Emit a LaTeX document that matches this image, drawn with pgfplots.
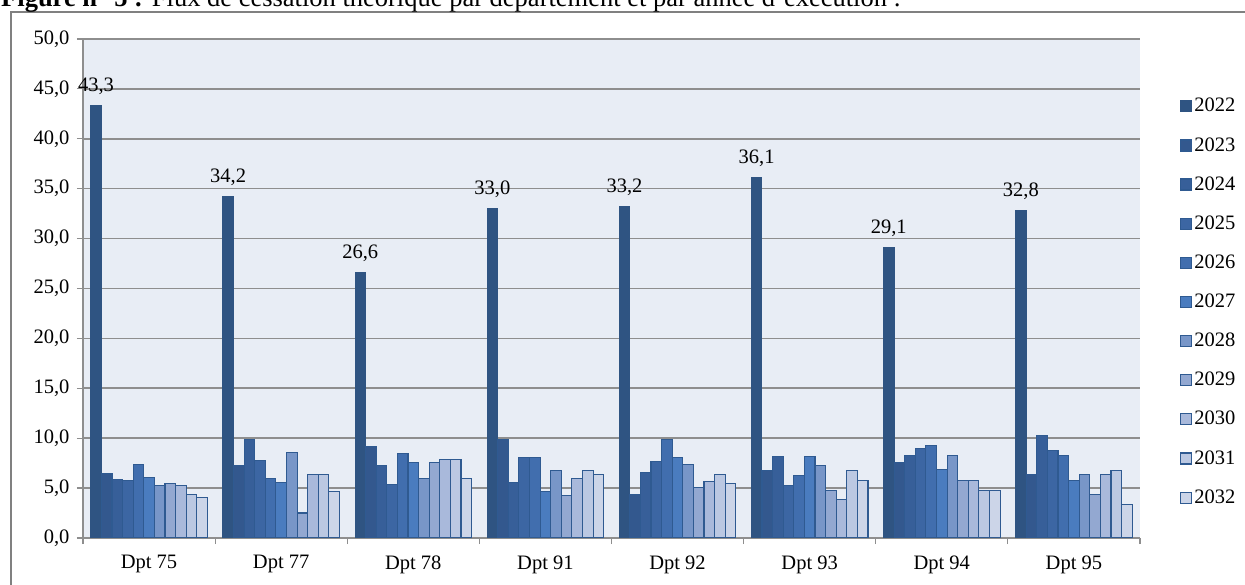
\documentclass[border=0pt]{standalone}
\usepackage{fontspec}
\setmainfont{Liberation Serif}
\usepackage{pgfplots}
\usepackage{pgfplotstable}
\pgfplotsset{compat=1.18}

\definecolor{c2022}{HTML}{2F5482}
\definecolor{c2023}{HTML}{33588E}
\definecolor{c2024}{HTML}{375F99}
\definecolor{c2025}{HTML}{3C66A3}
\definecolor{c2026}{HTML}{416EAE}
\definecolor{c2027}{HTML}{4A7CBF}
\definecolor{c2028}{HTML}{7896C8}
\definecolor{c2029}{HTML}{93A8D1}
\definecolor{c2030}{HTML}{A9B9DB}
\definecolor{c2031}{HTML}{BBC8E2}
\definecolor{c2032}{HTML}{CCD5E8}
\definecolor{barline}{HTML}{2F5A91}
\definecolor{plotbg}{HTML}{E8EDF5}
\definecolor{gridgray}{HTML}{8E8E8E}

\pgfplotstableread{
x y2022 y2023 y2024 y2025 y2026 y2027 y2028 y2029 y2030 y2031 y2032
0 43.3 6.5 5.9 5.8 7.4 6.1 5.3 5.5 5.3 4.4 4.1
1 34.2 7.3 9.9 7.8 6.0 5.6 8.6 2.5 6.4 6.4 4.7
2 26.6 9.2 7.3 5.4 8.5 7.6 6.0 7.6 7.9 7.9 6.0
3 33.0 9.9 5.6 8.1 8.1 4.7 6.8 4.3 6.0 6.8 6.4
4 33.2 4.4 6.6 7.7 9.9 8.1 7.4 5.1 5.7 6.4 5.5
5 36.1 6.8 8.2 5.3 6.3 8.2 7.3 4.8 3.9 6.8 5.8
6 29.1 7.6 8.3 9.0 9.3 6.9 8.3 5.8 5.8 4.8 4.8
7 32.8 6.4 10.3 8.8 8.3 5.8 6.4 4.4 6.4 6.8 3.4
}\data

\begin{document}
\begin{tikzpicture}
\begin{axis}[
  at={(0,0)}, anchor=south west,
  scale only axis, width=1057bp, height=499bp,
  xmin=-0.5, xmax=7.5, ymin=0, ymax=50,
  enlarge x limits=false,
  ybar=0pt, bar width=10.6bp,
  axis x line*=bottom, axis y line*=left,
  axis line style={gridgray, line width=1.2bp, -},
  axis background/.style={fill=plotbg},
  ymajorgrids, grid style={gridgray, line width=1.6bp},
  ytick={0,5,...,50},
  xtick={0,...,7},
  xticklabels={Dpt 75, Dpt 77, Dpt 78, Dpt 91, Dpt 92, Dpt 93, Dpt 94, Dpt 95},
  minor xtick={-0.5,0.5,...,7.5},
  major x tick style={draw=none},
  tick align=outside,
  major tick length=6bp, minor tick length=6bp,
  tick style={gridgray, line width=1.2bp},
  ticklabel style={font=\fontsize{20.5bp}{24bp}\selectfont},
  yticklabel style={xshift=-4bp},
  xticklabel style={yshift=-8bp},
  /pgf/number format/fixed,
  /pgf/number format/fixed zerofill,
  /pgf/number format/precision=1,
  /pgf/number format/use comma,
  /pgf/number format/assume math mode=true,
  legend style={draw=none, fill=none, at={(1.0378,0.474)}, anchor=west,
    inner sep=0pt, row sep=20bp, font=\fontsize{20.5bp}{24bp}\selectfont,
    nodes={inner sep=2bp}},
  legend cell align=left,
  legend image code/.code={\draw[#1, line width=1.2bp] (0bp,-6bp) rectangle (11bp,5bp);},
]
\addplot[fill=c2022, draw=c2022, line width=1bp,
  nodes near coords, point meta=y,
  every node near coord/.append style={font=\fontsize{20.5bp}{24bp}\selectfont, anchor=base, yshift=14bp, inner sep=0pt, black}]
  table[x=x, y=y2022] {\data};
\addplot[fill=c2023, draw=barline, line width=1.1bp] table[x=x, y=y2023] {\data};
\addplot[fill=c2024, draw=barline, line width=1.1bp] table[x=x, y=y2024] {\data};
\addplot[fill=c2025, draw=barline, line width=1.1bp] table[x=x, y=y2025] {\data};
\addplot[fill=c2026, draw=barline, line width=1.1bp] table[x=x, y=y2026] {\data};
\addplot[fill=c2027, draw=barline, line width=1.1bp] table[x=x, y=y2027] {\data};
\addplot[fill=c2028, draw=barline, line width=1.1bp] table[x=x, y=y2028] {\data};
\addplot[fill=c2029, draw=barline, line width=1.1bp] table[x=x, y=y2029] {\data};
\addplot[fill=c2030, draw=barline, line width=1.1bp] table[x=x, y=y2030] {\data};
\addplot[fill=c2031, draw=barline, line width=1.1bp] table[x=x, y=y2031] {\data};
\addplot[fill=c2032, draw=barline, line width=1.1bp] table[x=x, y=y2032] {\data};
\legend{2022,2023,2024,2025,2026,2027,2028,2029,2030,2031,2032}
\end{axis}
\draw[gray, line width=1.3bp] (1300bp,526bp) -- (-72bp,526bp) -- (-72bp,-100bp);
\node[anchor=base west, inner sep=0pt, font=\fontsize{26.5bp}{30bp}\selectfont] at (-82bp,531bp)
  {\textbf{Figure n° 5 :} Flux de cessation théorique par département et par année d'exécution :};
\pgfresetboundingbox
\useasboundingbox (-83bp,-47bp) rectangle (1162bp,538bp);
\end{tikzpicture}
\end{document}
